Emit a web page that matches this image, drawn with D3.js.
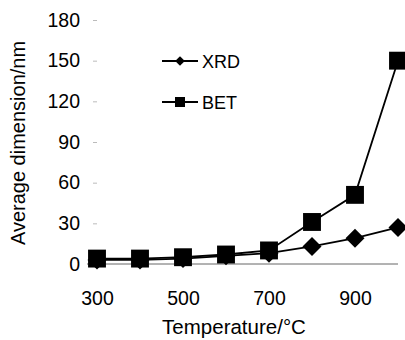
<!DOCTYPE html>
<html>
<head>
<meta charset="utf-8">
<script src="https://cdn.jsdelivr.net/npm/d3@7"></script>
<style>
  body { margin: 0; background: #fff; }
  svg text { font-family: "Liberation Sans", Arial, sans-serif; fill: #000; }
</style>
</head>
<body>
<svg id="chart" width="405" height="340"></svg>
<script>
const temps = [300, 400, 500, 600, 700, 800, 900, 1000]
const xrdValues = [3, 3, 4, 6, 8, 13, 19, 27]
const betValues = [4, 4, 5, 7, 10, 31, 51, 150]
const xTickLabels = [300, 500, 700, 900]
const yTickLabels = [0, 30, 60, 90, 120, 150, 180]

let svg = d3.select('#chart')

let xScale = d3.scaleLinear().domain([300, 1000]).range([97, 398])
let yScale = d3.scaleLinear().domain([0, 180]).range([264, 20])

// x axis: plain line with labels below
svg.append('line')
   .attr('x1', 87).attr('x2', 398)
   .attr('y1', yScale(0)).attr('y2', yScale(0))
   .attr('stroke', '#666').attr('stroke-width', 1)

let xAxis = d3.axisBottom(xScale).tickValues(xTickLabels).tickSize(0).tickPadding(27)
let gx = svg.append('g').attr('transform', 'translate(0,' + yScale(0) + ')').call(xAxis)
gx.select('.domain').remove()
gx.selectAll('text').style('font-size', '19.5px')

// y axis: only small tick dashes
let yAxis = d3.axisLeft(yScale).tickValues(yTickLabels).tickSize(4).tickPadding(13)
let gy = svg.append('g').attr('transform', 'translate(97,0)').call(yAxis)
gy.select('.domain').remove()
gy.selectAll('line').attr('stroke', '#bbb')
gy.selectAll('text').style('font-size', '19.5px')

svg.append('text')
   .attr('transform', 'translate(25,143) rotate(-90)')
   .attr('text-anchor', 'middle')
   .style('font-size', '20px')
   .text('Average dimension/nm')

svg.append('text')
   .attr('x', 234).attr('y', 334)
   .attr('text-anchor', 'middle')
   .style('font-size', '20.5px')
   .text('Temperature/°C')

let line = d3.line().x((d, i) => xScale(temps[i])).y((d) => yScale(d))

let diamond = d3.symbol().type(d3.symbolDiamond2).size(230)
let square = d3.symbol().type(d3.symbolSquare).size(320)

svg.append('path').datum(xrdValues).attr('d', line)
   .attr('fill', 'none').attr('stroke', '#000').attr('stroke-width', 1.8)
svg.append('path').datum(betValues).attr('d', line)
   .attr('fill', 'none').attr('stroke', '#000').attr('stroke-width', 1.8)

svg.selectAll('.xrd').data(xrdValues).enter().append('path')
   .attr('class', 'xrd')
   .attr('d', diamond)
   .attr('transform', (d, i) => 'translate(' + xScale(temps[i]) + ',' + yScale(d) + ')')
   .attr('fill', '#000')

svg.selectAll('.bet').data(betValues).enter().append('path')
   .attr('class', 'bet')
   .attr('d', square)
   .attr('transform', (d, i) => 'translate(' + xScale(temps[i]) + ',' + yScale(d) + ')')
   .attr('fill', '#000')

// legend
let legend = [
    {name: 'XRD', y: 61, shape: d3.symbol().type(d3.symbolDiamond2).size(60)},
    {name: 'BET', y: 102, shape: d3.symbol().type(d3.symbolSquare).size(100)}
]
legend.forEach((item) => {
    svg.append('line')
       .attr('x1', 162).attr('x2', 198).attr('y1', item.y).attr('y2', item.y)
       .attr('stroke', '#000').attr('stroke-width', 1.8)
    svg.append('path').attr('d', item.shape)
       .attr('transform', 'translate(180,' + item.y + ')')
       .attr('fill', '#000')
    svg.append('text')
       .attr('x', 202).attr('y', item.y + 7)
       .style('font-size', '18px')
       .text(item.name)
})
</script>
</body>
</html>
